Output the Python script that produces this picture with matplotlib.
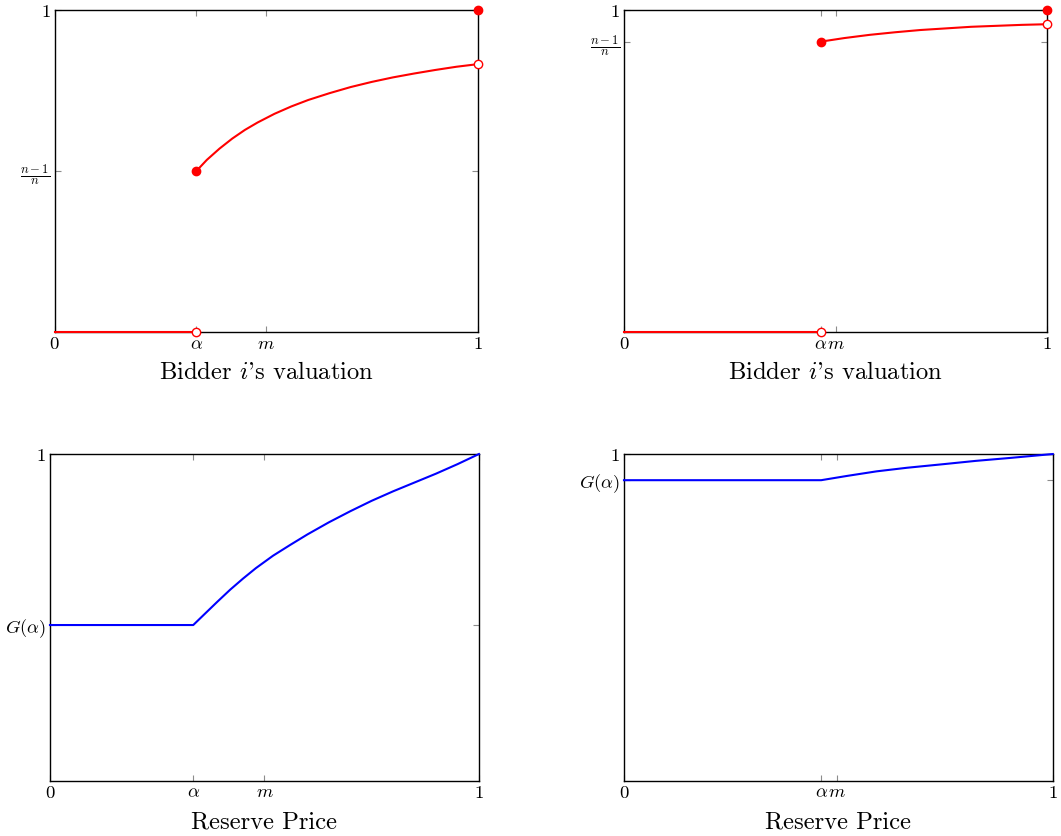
import numpy as np
import matplotlib
matplotlib.use("Agg")
import matplotlib.pyplot as plt

plt.rcParams["font.family"] = "serif"
plt.rcParams["font.serif"] = ["cmr10"]
plt.rcParams["mathtext.fontset"] = "cm"
plt.rcParams["axes.formatter.use_mathtext"] = True

# --- Daten ---

# oben links: n = 2
alpha_a = 0.335
m_a = 0.5
win_a = 0.5          # (n-1)/n
bid_x_a = [0.335, 0.36, 0.39, 0.42, 0.45, 0.48, 0.52, 0.56, 0.60,
           0.65, 0.70, 0.75, 0.80, 0.85, 0.90, 0.95, 1.0]
bid_y_a = [0.500, 0.535, 0.570, 0.601, 0.628, 0.651, 0.678, 0.701, 0.721,
           0.742, 0.761, 0.777, 0.791, 0.803, 0.814, 0.824, 0.832]

# oben rechts: n = 10
alpha_b = 0.465
m_b = 0.5
win_b = 0.9
bid_x_b = [0.465, 0.52, 0.58, 0.64, 0.70, 0.76, 0.82, 0.88, 0.94, 1.0]
bid_y_b = [0.902, 0.913, 0.923, 0.931, 0.938, 0.943, 0.948, 0.951, 0.954, 0.956]

# unten links
res_x_a = [0.0, 0.334, 0.36, 0.39, 0.42, 0.45, 0.48, 0.52, 0.56, 0.60,
           0.65, 0.70, 0.75, 0.80, 0.85, 0.90, 0.95, 1.0]
res_y_a = [0.477, 0.477, 0.510, 0.548, 0.585, 0.619, 0.651, 0.689, 0.722, 0.754,
           0.791, 0.825, 0.857, 0.886, 0.913, 0.940, 0.969, 1.0]
G_a = 0.477

# unten rechts
res_x_b = [0.0, 0.460, 0.52, 0.589, 0.66, 0.745, 0.82, 0.90, 1.0]
res_y_b = [0.920, 0.920, 0.933, 0.947, 0.958, 0.969, 0.979, 0.988, 1.0]
G_b = 0.920

FRAC = r"$\frac{n-1}{n}$"
RED = "#ff0000"
BLUE = "#0000ff"


def style_axes(ax, alpha, m, yval, ylab, xlabel, frac=False):
    ax.set_xlim(0, 1)
    ax.set_ylim(0, 1)
    ax.set_xticks([0, alpha, m, 1])
    ax.set_xticklabels(["$0$", r"$\alpha$", "$m$", "$1$"])
    ax.set_yticks([yval, 1])
    ax.set_yticklabels([ylab, "$1$"])
    ax.tick_params(direction="in", top=True, right=True, length=4,
                   width=0.8, color="0.55", labelsize=13.4, pad=3)
    if frac:
        ax.get_yticklabels()[0].set_fontsize(13)
    for s in ax.spines.values():
        s.set_linewidth(1.0)
        s.set_color("black")
    ax.set_xlabel(xlabel, fontsize=17.7, labelpad=7)


fig = plt.figure(figsize=(10.61, 8.36), dpi=100)
ax1 = fig.add_axes([0.0514, 0.6025, 0.3987, 0.3855])
ax2 = fig.add_axes([0.5884, 0.6025, 0.3987, 0.3855])
ax3 = fig.add_axes([0.0471, 0.0658, 0.4043, 0.3911])
ax4 = fig.add_axes([0.5881, 0.0658, 0.4041, 0.3911])

lw = 1.5
ms = 6

# Gewinnwahrscheinlichkeit
for ax, alpha, m, win, bx, by in [(ax1, alpha_a, m_a, win_a, bid_x_a, bid_y_a),
                                  (ax2, alpha_b, m_b, win_b, bid_x_b, bid_y_b)]:
    ax.plot([0, alpha], [0, 0], color=RED, lw=lw, clip_on=False, zorder=3)
    ax.plot(bx, by, color=RED, lw=lw, clip_on=False, zorder=3)
    ax.plot([alpha], [0], "o", mfc="white", mec=RED, ms=ms, mew=1.0, clip_on=False, zorder=4)
    ax.plot([bx[0]], [by[0]], "o", color=RED, ms=ms, clip_on=False, zorder=4)
    ax.plot([1], [by[-1]], "o", mfc="white", mec=RED, ms=ms, mew=1.0, clip_on=False, zorder=4)
    ax.plot([1], [1], "o", color=RED, ms=ms, clip_on=False, zorder=4)
    style_axes(ax, alpha, m, win, FRAC, r"Bidder $i$'s valuation", frac=True)

# Erlös / Reservepreis
for ax, alpha, m, G, rx, ry in [(ax3, 0.334, 0.5, G_a, res_x_a, res_y_a),
                                (ax4, 0.460, 0.497, G_b, res_x_b, res_y_b)]:
    ax.plot(rx, ry, color=BLUE, lw=lw, clip_on=False, zorder=3)
    style_axes(ax, alpha, m, G, r"$G(\alpha)$", "Reserve Price")

plt.savefig("out.png", dpi=100)
